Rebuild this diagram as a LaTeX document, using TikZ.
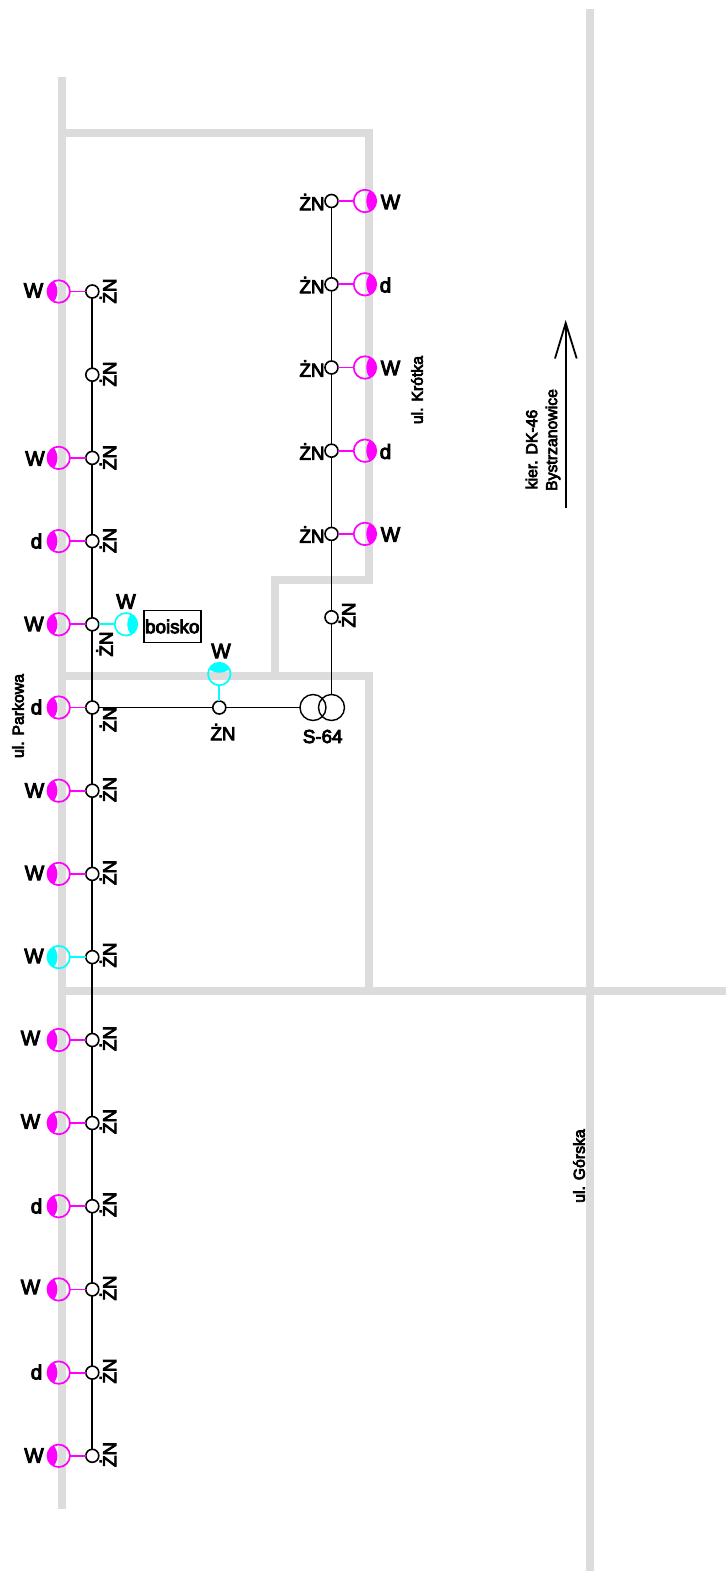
\documentclass[tikz,border=0pt]{standalone}
\usepackage{fontspec}
\newfontfamily\labelfont[FakeBold=4.5]{Liberation Sans}
\definecolor{road}{HTML}{DCDCDC}
\definecolor{lampm}{HTML}{FF00FF}
\definecolor{lampc}{HTML}{00FFFF}
\tikzset{
  roadline/.style={line width=8pt, color=road},
  wire/.style={line width=1.8pt},
  tap/.style={line width=1.8pt, color=#1},
  joint/.style={circle, draw, fill=white, line width=1.6pt, minimum size=13pt, inner sep=0pt, outer sep=0pt},
  trafo/.style={circle, draw, line width=1.4pt, minimum size=26pt, inner sep=0pt, outer sep=0pt},
  lamp/.style={circle, draw=#1, line width=1.7pt, minimum size=22.5pt, inner sep=0pt, outer sep=0pt},
  lampleft/.style={lamp=#1, path picture={\fill[#1] ([xshift=-17.5pt]path picture bounding box.center) circle (16.2pt);}},
  lampright/.style={lamp=#1, path picture={\fill[#1] ([xshift=17.5pt]path picture bounding box.center) circle (16.2pt);}},
  lamptop/.style={lamp=#1, path picture={\fill[#1] ([yshift=17.5pt]path picture bounding box.center) circle (16.2pt);}},
  bigtxt/.style={inner sep=0pt, font=\labelfont\fontsize{20.5}{22}\selectfont},
  midtxt/.style={inner sep=0pt, font=\labelfont\fontsize{18.8}{20}\selectfont},
  smalltxt/.style={inner sep=0pt, rotate=90, font=\labelfont\fontsize{15.8}{17}\selectfont},
}
\begin{document}
\begin{tikzpicture}[x=1pt, y=-1pt]
\useasboundingbox (0,0) rectangle (726,1571);

% roads
\draw[roadline] (62,77) -- (62,1509);
\draw[roadline] (62,133) -- (372.5,133);
\draw[roadline] (368.5,133) -- (368.5,583);
\draw[roadline] (271,580) -- (372.5,580);
\draw[roadline] (275,576) -- (275,676);
\draw[roadline] (62,676) -- (372.5,676);
\draw[roadline] (368.5,672) -- (368.5,994);
\draw[roadline] (62,990.5) -- (726,990.5);
\draw[roadline] (590,9) -- (590,1571);

% left line
\node[joint] (j1) at (92.3,291.5) {};
\node[joint] (j2) at (92.3,374.7) {};
\node[joint] (j3) at (92.3,457.9) {};
\node[joint] (j4) at (92.3,541.1) {};
\node[joint] (j5) at (92.3,624.3) {};
\node[joint] (j6) at (92.3,707.5) {};
\node[joint] (j7) at (92.3,790.7) {};
\node[joint] (j8) at (92.3,873.9) {};
\node[joint] (j9) at (92.3,957.1) {};
\node[joint] (j10) at (92.3,1040) {};
\node[joint] (j11) at (92.3,1123) {};
\node[joint] (j12) at (92.3,1206.2) {};
\node[joint] (j13) at (92.3,1289.4) {};
\node[joint] (j14) at (92.3,1372.6) {};
\node[joint] (j15) at (92.3,1455.8) {};

\draw[wire] (j1) -- (j2);
\draw[wire] (j2) -- (j3);
\draw[wire] (j3) -- (j4);
\draw[wire] (j4) -- (j5);
\draw[wire] (j5) -- (j6);
\draw[wire] (j6) -- (j7);
\draw[wire] (j7) -- (j8);
\draw[wire] (j8) -- (j9);
\draw[wire] (j9) -- (j10);
\draw[wire] (j10) -- (j11);
\draw[wire] (j11) -- (j12);
\draw[wire] (j12) -- (j13);
\draw[wire] (j13) -- (j14);
\draw[wire] (j14) -- (j15);

\node[lampleft=lampm] (l1) at (58.7,291.5) {};
\node[lampleft=lampm] (l3) at (58.7,457.9) {};
\node[lampleft=lampm] (l4) at (58.7,541.1) {};
\node[lampleft=lampm] (l5) at (58.7,624.3) {};
\node[lampleft=lampm] (l6) at (58.7,707.5) {};
\node[lampleft=lampm] (l7) at (58.7,790.7) {};
\node[lampleft=lampm] (l8) at (58.7,873.9) {};
\node[lampleft=lampc] (l9) at (58.7,957.1) {};
\node[lampleft=lampm] (l10) at (58.7,1040) {};
\node[lampleft=lampm] (l11) at (58.7,1123) {};
\node[lampleft=lampm] (l12) at (58.7,1206.2) {};
\node[lampleft=lampm] (l13) at (58.7,1289.4) {};
\node[lampleft=lampm] (l14) at (58.7,1372.6) {};
\node[lampleft=lampm] (l15) at (58.7,1455.8) {};

\draw[tap=lampm] (l1) -- (j1);
\draw[tap=lampm] (l3) -- (j3);
\draw[tap=lampm] (l4) -- (j4);
\draw[tap=lampm] (l5) -- (j5);
\draw[tap=lampm] (l6) -- (j6);
\draw[tap=lampm] (l7) -- (j7);
\draw[tap=lampm] (l8) -- (j8);
\draw[tap=lampc] (l9) -- (j9);
\draw[tap=lampm] (l10) -- (j10);
\draw[tap=lampm] (l11) -- (j11);
\draw[tap=lampm] (l12) -- (j12);
\draw[tap=lampm] (l13) -- (j13);
\draw[tap=lampm] (l14) -- (j14);
\draw[tap=lampm] (l15) -- (j15);

\node[bigtxt] (w1) at (33.5,290.5) {W};
\node[bigtxt] (w3) at (35,458.5) {W};
\node[bigtxt] (w4) at (36.5,541) {d};
\node[bigtxt] (w5) at (34,624) {W};
\node[bigtxt] (w6) at (36.5,707) {d};
\node[bigtxt] (w7) at (34.5,790.5) {W};
\node[bigtxt] (w8) at (34.5,873) {W};
\node[bigtxt] (w9) at (34,956) {W};
\node[bigtxt] (w10) at (30.5,1038) {W};
\node[bigtxt] (w11) at (30.5,1121.5) {W};
\node[bigtxt] (w12) at (36.5,1206) {d};
\node[bigtxt] (w13) at (30.5,1287) {W};
\node[bigtxt] (w14) at (36.5,1372) {d};
\node[bigtxt] (w15) at (34,1455.5) {W};

\node[midtxt, rotate=90] (n1) at (108,291) {ŻN};
\node[midtxt, rotate=90] (n2) at (108,374) {ŻN};
\node[midtxt, rotate=90] (n3) at (108,457.5) {ŻN};
\node[midtxt, rotate=90] (n4) at (108,540.5) {ŻN};
\node[midtxt, rotate=90] (n5) at (104.5,644) {ŻN};
\node[midtxt, rotate=90] (n6) at (108,719.5) {ŻN};
\node[midtxt, rotate=90] (n7) at (108,789.5) {ŻN};
\node[midtxt, rotate=90] (n8) at (108,872.5) {ŻN};
\node[midtxt, rotate=90] (n9) at (108,955) {ŻN};
\node[midtxt, rotate=90] (n10) at (108,1038.5) {ŻN};
\node[midtxt, rotate=90] (n11) at (108,1121.5) {ŻN};
\node[midtxt, rotate=90] (n12) at (108,1204.5) {ŻN};
\node[midtxt, rotate=90] (n13) at (108,1288) {ŻN};
\node[midtxt, rotate=90] (n14) at (108,1371) {ŻN};
\node[midtxt, rotate=90] (n15) at (108,1454.5) {ŻN};

% boisko
\node[lampright=lampc] (lb) at (126,624.3) {};
\draw[tap=lampc] (j5) -- (lb);
\node[bigtxt] (wb) at (126,601.5) {W};
\node[midtxt, draw, line width=1.4pt, minimum width=57pt, minimum height=32.5pt] (boisko) at (172.3,626.5) {boisko};

% feeder and station
\node[joint] (jm) at (219.3,707.5) {};
\node[lamptop=lampc] (lm) at (219.3,674) {};
\draw[tap=lampc] (jm) -- (lm);
\node[bigtxt] (wm) at (221,651) {W};
\node[midtxt] (nm) at (223,732) {ŻN};
\node[trafo] (t1) at (313,707.5) {};
\node[trafo] (t2) at (331.5,707.5) {};
\node[midtxt] (s64) at (322.7,736.5) {S-64};
\draw[wire] (j6) -- (jm);
\draw[wire] (jm) -- (t1);

% right line
\node[joint] (r1) at (331.5,201) {};
\node[joint] (r2) at (331.5,284.3) {};
\node[joint] (r3) at (331.5,367.5) {};
\node[joint] (r4) at (331.5,450.7) {};
\node[joint] (r5) at (331.5,533.9) {};
\node[joint] (r6) at (331.5,617.3) {};

\draw[wire] (t2) -- (r6);
\draw[wire] (r6) -- (r5);
\draw[wire] (r5) -- (r4);
\draw[wire] (r4) -- (r3);
\draw[wire] (r3) -- (r2);
\draw[wire] (r2) -- (r1);

\node[lampright=lampm] (q1) at (365,201) {};
\node[lampright=lampm] (q2) at (365,284.3) {};
\node[lampright=lampm] (q3) at (365,367.5) {};
\node[lampright=lampm] (q4) at (365,450.7) {};
\node[lampright=lampm] (q5) at (365,533.9) {};

\draw[tap=lampm] (r1) -- (q1);
\draw[tap=lampm] (r2) -- (q2);
\draw[tap=lampm] (r3) -- (q3);
\draw[tap=lampm] (r4) -- (q4);
\draw[tap=lampm] (r5) -- (q5);

\node[bigtxt] (v1) at (390.5,202) {W};
\node[bigtxt] (v2) at (385.5,285) {d};
\node[bigtxt] (v3) at (390.5,368) {W};
\node[bigtxt] (v4) at (385.5,451.5) {d};
\node[bigtxt] (v5) at (390.5,534.5) {W};

\node[midtxt] (m1) at (312,202) {ŻN};
\node[midtxt] (m2) at (312,285) {ŻN};
\node[midtxt] (m3) at (312,368.5) {ŻN};
\node[midtxt] (m4) at (312,451.5) {ŻN};
\node[midtxt] (m5) at (312,534.5) {ŻN};
\node[midtxt, rotate=90] (m6) at (347,615) {ŻN};

% street names
\node[smalltxt] (parkowa) at (18,716) {ul. Parkowa};
\node[smalltxt] (krotka) at (417,390) {ul. Krótka};
\node[smalltxt] (gorska) at (579,1166) {ul. Górska};
\node[smalltxt] (kier) at (531.5,449.5) {kier. DK-46};
\node[smalltxt] (bystrz) at (553,440) {Bystrzanowice};

% direction arrow
\coordinate (tail) at (565.7,507.5);
\coordinate (tip) at (565.7,323);
\coordinate (barba) at (555,358.5);
\coordinate (barbb) at (576.7,358.5);
\draw[wire] (tail) -- (tip);
\draw[wire] (barba) -- (tip) -- (barbb);
\end{tikzpicture}
\end{document}
